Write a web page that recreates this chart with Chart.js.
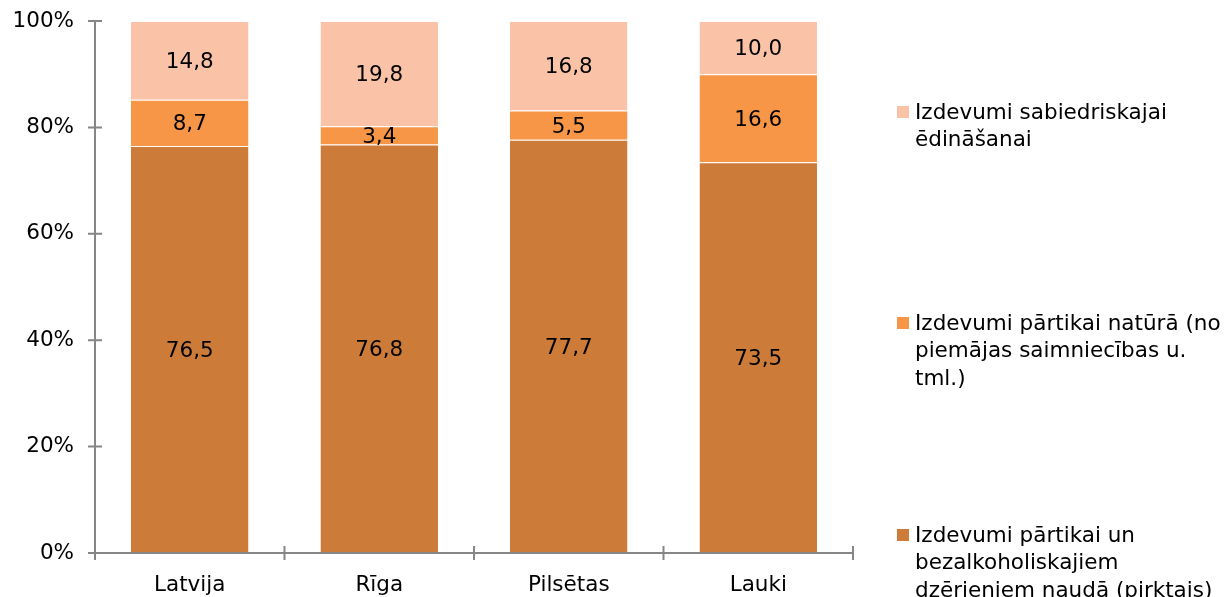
<!DOCTYPE html>
<html>
<head>
<meta charset="utf-8">
<script src="https://cdn.jsdelivr.net/npm/chart.js@4.4.1/dist/chart.umd.min.js"></script>
<style>
html,body{margin:0;padding:0;background:#fff;}
#wrap{position:relative;width:1225px;height:597px;}
</style>
</head>
<body>
<div id="wrap"><canvas id="c" width="1225" height="597"></canvas></div>
<script>
const categories = ['Latvija', 'Rīga', 'Pilsētas', 'Lauki'];
const cashFood = [76.5, 76.8, 77.7, 73.5];
const kindFood = [8.7, 3.4, 5.5, 16.6];
const catering = [14.8, 19.8, 16.8, 10.0];
const seriesNames = [
  'Izdevumi pārtikai un bezalkoholiskajiem dzērieniem naudā (pirktais)',
  'Izdevumi pārtikai natūrā (no piemājas saimniecības u. tml.)',
  'Izdevumi sabiedriskajai ēdināšanai'
];
const legendLines = [
  ['Izdevumi pārtikai un', 'bezalkoholiskajiem', 'dzērieniem naudā (pirktais)'],
  ['Izdevumi pārtikai natūrā (no', 'piemājas saimniecības u.', 'tml.)'],
  ['Izdevumi sabiedriskajai', 'ēdināšanai']
];
const yTicks = [0, 20, 40, 60, 80, 100];
const colors = ['#CC7B38', '#F79646', '#FAC3A8'];

const FONT = 'DejaVu Sans, Verdana, sans-serif';
const FS = 21.5;
const raw = [cashFood, kindFood, catering];
const totals = categories.map((_, i) => raw.reduce((s, a) => s + a[i], 0));
const pct = raw.map(a => a.map((v, i) => v / totals[i] * 100));

const axisColor = '#868686';

const decor = {
  id: 'decor',
  afterDatasetsDraw(chart) {
    const ctx = chart.ctx;
    const x = chart.scales.x, y = chart.scales.y;
    ctx.save();
    ctx.font = FS + 'px ' + FONT;
    ctx.fillStyle = '#000';
    ctx.textAlign = 'center';
    ctx.textBaseline = 'middle';
    chart.data.datasets.forEach((ds, di) => {
      const meta = chart.getDatasetMeta(di);
      meta.data.forEach((bar, i) => {
        const cy = (bar.y + bar.base) / 2 + 2;
        ctx.fillText(raw[di][i].toFixed(1).replace('.', ','), bar.x, cy);
      });
    });
    ctx.restore();
    ctx.save();
    ctx.strokeStyle = axisColor;
    ctx.lineWidth = 2;
    const left = x.left, right = x.right, bottom = y.getPixelForValue(0), top = y.getPixelForValue(100);
    ctx.beginPath();
    ctx.moveTo(left, top); ctx.lineTo(left, bottom);
    ctx.moveTo(left - 7, bottom); ctx.lineTo(right, bottom);
    yTicks.forEach(t => {
      const py = y.getPixelForValue(t);
      ctx.moveTo(left - 7, py); ctx.lineTo(left + 7, py);
    });
    for (let i = 0; i <= categories.length; i++) {
      const px = left + (right - left) * i / categories.length;
      ctx.moveTo(px, bottom - 7); ctx.lineTo(px, bottom + 7);
    }
    ctx.stroke();
    ctx.restore();
    ctx.save();
    ctx.font = FS + 'px ' + FONT;
    ctx.textAlign = 'left';
    ctx.textBaseline = 'middle';
    const starts = [536, 324, 113];
    legendLines.forEach((lines, di) => {
      const y0 = starts[di];
      ctx.fillStyle = colors[di];
      ctx.fillRect(897, y0 - 7, 12, 12);
      ctx.fillStyle = '#000';
      lines.forEach((ln, li) => ctx.fillText(ln, 915, y0 + li * 27.5));
    });
    ctx.restore();
  }
};

new Chart(document.getElementById('c'), {
  type: 'bar',
  data: {
    labels: categories,
    datasets: pct.map((d, i) => ({
      label: seriesNames[i],
      data: d,
      backgroundColor: colors[i],
      borderColor: 'rgba(255,255,255,0.35)',
      borderWidth: {top: 1, bottom: 0, left: 0, right: 0},
      borderSkipped: false,
      barPercentage: 0.62,
      categoryPercentage: 1
    }))
  },
  options: {
    responsive: false,
    animation: false,
    devicePixelRatio: 1,
    layout: {padding: {left: 0, top: 21, right: 372, bottom: 0}},
    plugins: {legend: {display: false}, tooltip: {enabled: false}},
    scales: {
      x: {
        stacked: true,
        grid: {display: false},
        border: {display: false},
        ticks: {font: {family: FONT, size: FS}, color: '#000', padding: 12},
        afterFit(s) { s.height = 44; s.paddingLeft = 0; s.paddingRight = 0; }
      },
      y: {
        stacked: true,
        min: 0, max: 100,
        afterBuildTicks(s) { s.ticks = yTicks.map(v => ({value: v})); },
        grid: {display: false},
        border: {display: false},
        ticks: {font: {family: FONT, size: FS}, color: '#000', padding: 13,
          callback: v => v + '%'},
        afterFit(s) { s.width = 95; s.paddingTop = 0; s.paddingBottom = 0; }
      }
    }
  },
  plugins: [decor]
});
</script>
</body>
</html>
